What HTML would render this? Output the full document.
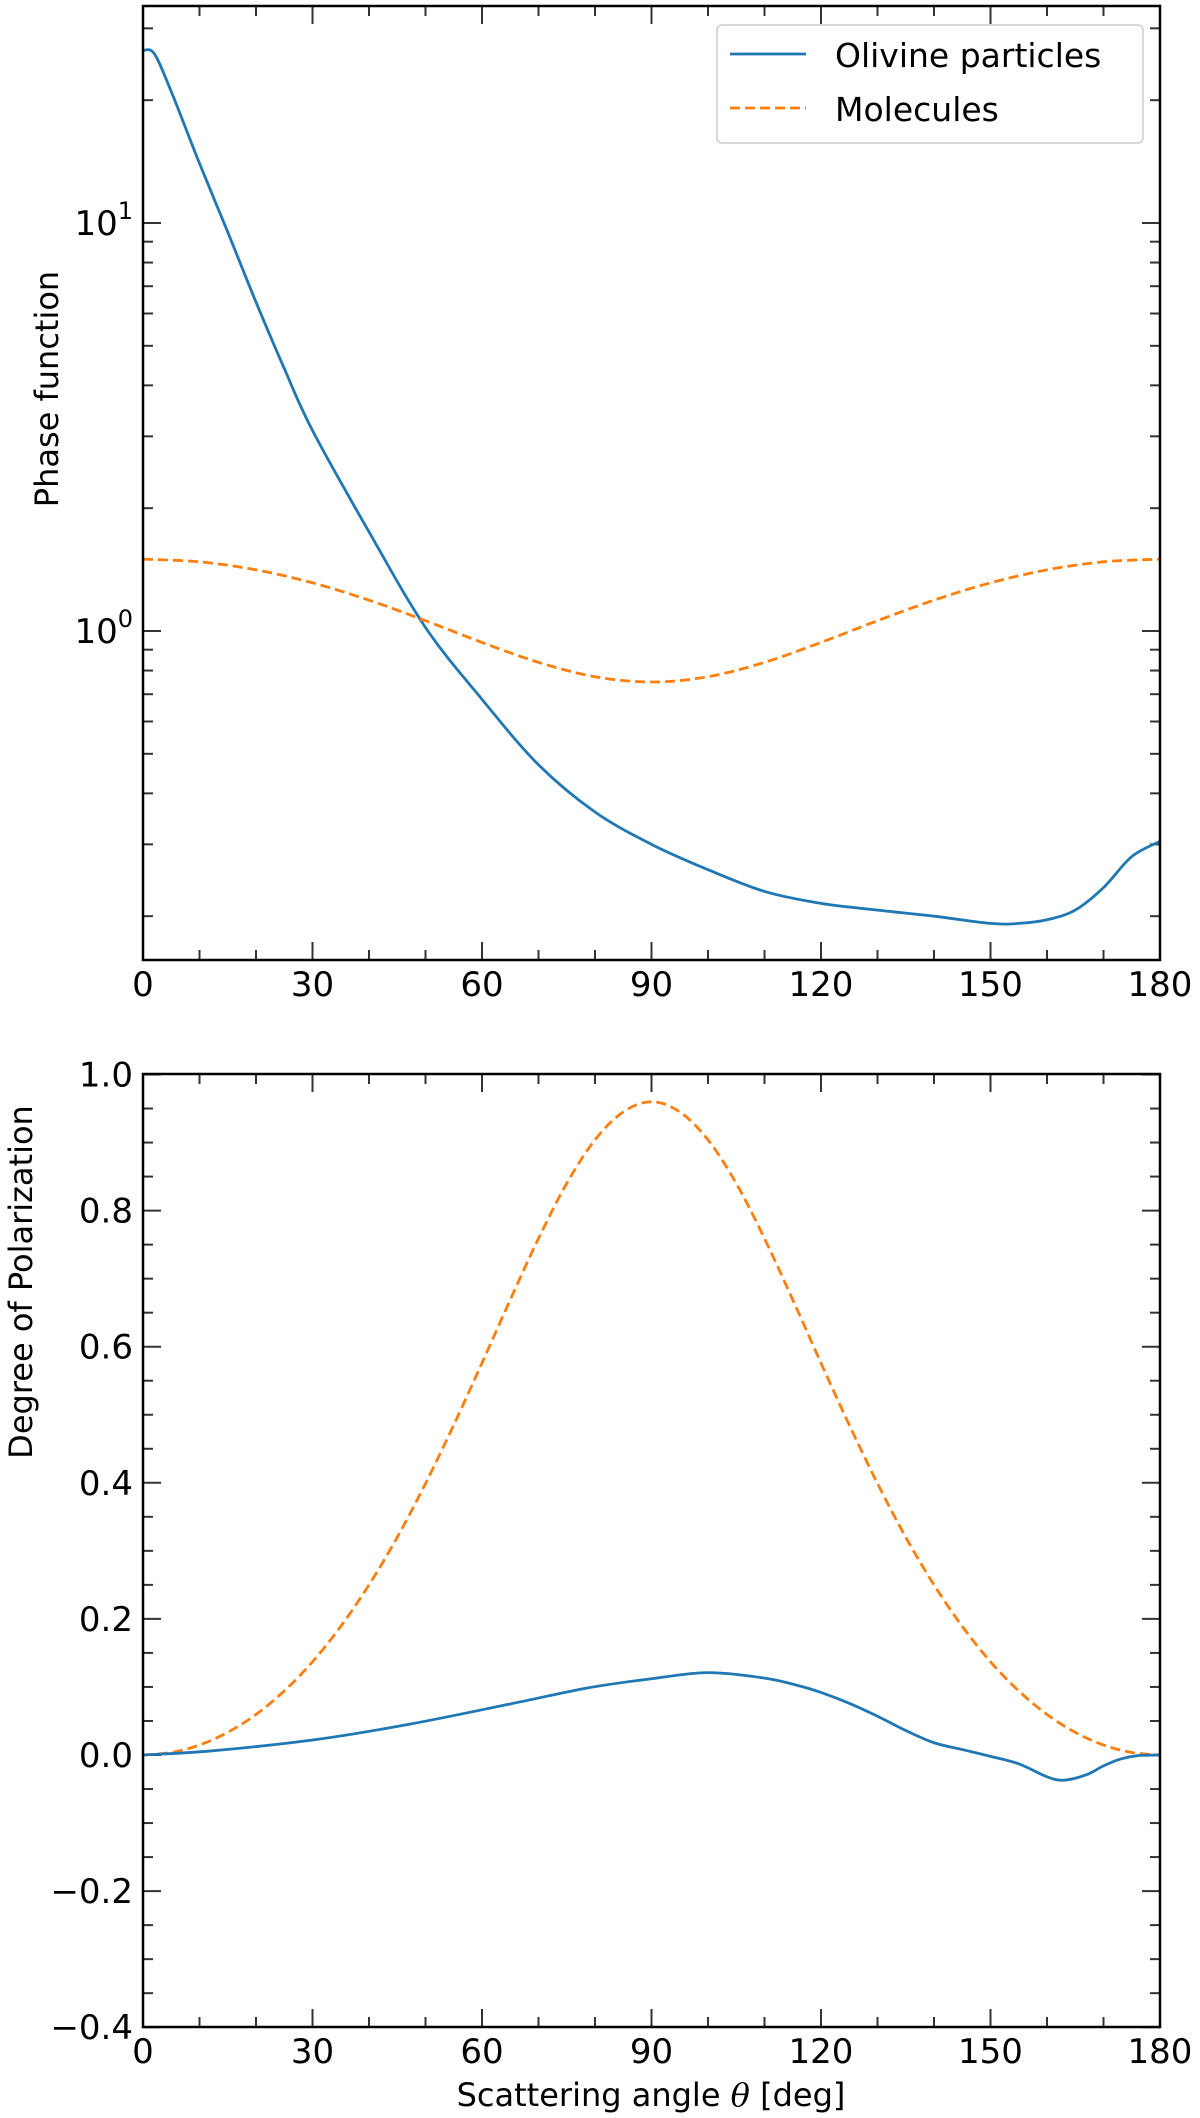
<!DOCTYPE html>
<html><head><meta charset="utf-8">
<style>
html,body{margin:0;padding:0;background:#fff;overflow:hidden;width:1200px;height:2118px;}
svg{display:block;}
text{font-family:"DejaVu Sans","Liberation Sans",sans-serif;fill:#000;}
</style></head>
<body>
<svg id="fig" width="1200" height="2118" viewBox="0 0 1200 2118" xmlns="http://www.w3.org/2000/svg">
<g id="top"></g>
<g id="bot"></g>
</svg>
<script>
const olivineAngles = [0,2,5,10,15,20,25,30,40,50,60,70,80,90,100,110,120,130,140,150,155,160,165,170,175,180];
const olivinePhase = [26.5,26,21,14,9.5,6.4,4.4,3.1,1.75,1.02,0.68,0.47,0.36,0.3,0.26,0.23,0.215,0.207,0.2,0.192,0.192,0.196,0.207,0.235,0.28,0.305];
const molAngles = [0,10,20,30,40,50,60,70,80,90,100,110,120,130,140,150,160,170,180];
const molPhase = [1.5,1.4777,1.4123,1.3125,1.1901,1.0599,0.9375,0.8377,0.7726,0.75,0.7726,0.8377,0.9375,1.0599,1.1901,1.3125,1.4123,1.4777,1.5];
const polAngles = [0,12,30,47,65,79,90,100,110,116,120,125,130,135,140,145,150,155,160,163,167,170,173,176,180];
const olivinePol = [0,0.006,0.022,0.045,0.075,0.099,0.112,0.121,0.113,0.102,0.092,0.076,0.057,0.036,0.018,0.008,-0.002,-0.013,-0.032,-0.037,-0.029,-0.016,-0.006,-0.001,0];
const molPolAngles = [0,5,10,15,20,25,30,35,40,45,50,55,60,65,70,75,80,85,90,95,100,105,110,115,120,125,130,135,140,145,150,155,160,165,170,175,180];
const molPol = [0,0.0037,0.0147,0.0333,0.0596,0.0941,0.137,0.189,0.25,0.32,0.399,0.485,0.576,0.669,0.759,0.84,0.904,0.945,0.96,0.945,0.904,0.84,0.759,0.669,0.576,0.485,0.399,0.32,0.25,0.189,0.137,0.0941,0.0596,0.0333,0.0147,0.0037,0];
const xTicks = [0,30,60,90,120,150,180];
const polTicks = [-0.4,-0.2,0.0,0.2,0.4,0.6,0.8,1.0];

const NS="http://www.w3.org/2000/svg";
const L=143,R=1160;
const T1=6,B1=960,T2=1074,B2=2027;
const xS=a=>L+(a/180)*(R-L);
const y1=v=>631-408*Math.log10(v);
const y2=v=>1755-(v/0.2)*136.1;
function el(tag,attrs,parent){const e=document.createElementNS(NS,tag);for(const k in attrs)e.setAttribute(k,attrs[k]);parent.appendChild(e);return e;}
function smooth(pts){let d=`M${pts[0][0]},${pts[0][1]}`;for(let i=0;i<pts.length-1;i++){const p0=pts[Math.max(0,i-1)],p1=pts[i],p2=pts[i+1],p3=pts[Math.min(pts.length-1,i+2)];const c1=[p1[0]+(p2[0]-p0[0])/6,p1[1]+(p2[1]-p0[1])/6],c2=[p2[0]-(p3[0]-p1[0])/6,p2[1]-(p3[1]-p1[1])/6];d+=`C${c1[0].toFixed(2)},${c1[1].toFixed(2)} ${c2[0].toFixed(2)},${c2[1].toFixed(2)} ${p2[0].toFixed(2)},${p2[1].toFixed(2)}`;}return d;}

function frame(g,T,B,xlabels,xlbY){
  for(let a=0;a<=180;a+=10){const major=a%30===0;const len=major?18:10;const x=xS(a);
    const t1=el('line',{x1:x,x2:x,y1:B,y2:B-len,stroke:'#333','stroke-width':2},g);
    
    
    const t2=el('line',{x1:x,x2:x,y1:T,y2:T+len,stroke:'#333','stroke-width':2},g);
    
    
  }
  if(xlabels){xTicks.forEach(a=>{const t=el('text',{x:xS(a),y:xlbY,'font-size':34,'text-anchor':'middle'},g);t.textContent=a;
    
    });}
}
function box(g,T,B){const r=el('rect',{x:L,y:T,width:R-L,height:B-T,fill:'none',stroke:'#000','stroke-width':2.5},g);
  
  }

// TOP PANEL
const gt=document.getElementById('top');
frame(gt,T1,B1,true,996);
for(let d=-1;d<=1;d++){for(let m=1;m<=9;m++){const v=m*Math.pow(10,d);const y=y1(v);if(y<T1||y>B1)continue;const len=m===1?18:10;
  const a=el('line',{x1:L,x2:L+len,y1:y,y2:y,stroke:'#333','stroke-width':2},gt);
  
  
  const b=el('line',{x1:R,x2:R-len,y1:y,y2:y,stroke:'#333','stroke-width':2},gt);
  
  
  if(m===1){const t=el('text',{x:L-10,y:y+12,'font-size':34,'text-anchor':'end'},gt);
    
    
    t.innerHTML='10<tspan dy="-16" font-size="24">'+d+'</tspan>';}
}}
const cpT=el('clipPath',{id:'cpT'},gt);el('rect',{x:L,y:T1,width:R-L,height:B1-T1},cpT);
const olP=el('path',{d:smooth(olivineAngles.map((a,i)=>[xS(a),y1(olivinePhase[i])])),fill:'none',stroke:'#1f77b4','stroke-width':2.8,'clip-path':'url(#cpT)'},gt);


const mP=el('path',{d:smooth(molAngles.map((a,i)=>[xS(a),y1(molPhase[i])])),fill:'none',stroke:'#ff7f0e','stroke-width':2.8,'stroke-dasharray':'10,5','clip-path':'url(#cpT)'},gt);


box(gt,T1,B1);
const yl1=el('text',{x:0,y:0,'font-size':32,'text-anchor':'middle',transform:'translate(58,389) rotate(-90)'},gt);yl1.textContent='Phase function';


const lg=el('g',{},gt);


el('rect',{x:717,y:25,width:426,height:118,rx:5,fill:'#fff',stroke:'#ccc','stroke-width':1.5},lg);
const le1=el('line',{x1:730,x2:806,y1:54,y2:54,stroke:'#1f77b4','stroke-width':2.8},lg);


const le2=el('line',{x1:730,x2:806,y1:108,y2:108,stroke:'#ff7f0e','stroke-width':2.8,'stroke-dasharray':'10,5'},lg);


const lt1=el('text',{x:835,y:67,'font-size':33},lg);lt1.textContent='Olivine particles';


const lt2=el('text',{x:835,y:121,'font-size':33},lg);lt2.textContent='Molecules';



// BOTTOM PANEL
const gb=document.getElementById('bot');
frame(gb,T2,B2,true,2063);
for(let k=-8;k<=20;k++){const v=k*0.05;const y=y2(v);if(y<T2-1||y>B2+1)continue;const major=k%4===0;const len=major?18:10;
  const a=el('line',{x1:L,x2:L+len,y1:y,y2:y,stroke:'#333','stroke-width':2},gb);
  
  
  const b=el('line',{x1:R,x2:R-len,y1:y,y2:y,stroke:'#333','stroke-width':2},gb);
  
  }
polTicks.forEach(v=>{const t=el('text',{x:L-10,y:y2(v)+12,'font-size':34,'text-anchor':'end'},gb);
  t.textContent=(v<0?'\u2212':'')+Math.abs(v).toFixed(1);
  
  });
const mPol=el('path',{d:smooth(molPolAngles.map((a,i)=>[xS(a),y2(molPol[i])])),fill:'none',stroke:'#ff7f0e','stroke-width':2.8,'stroke-dasharray':'10,5'},gb);


const oPol=el('path',{d:smooth(polAngles.map((a,i)=>[xS(a),y2(olivinePol[i])])),fill:'none',stroke:'#1f77b4','stroke-width':2.8},gb);


box(gb,T2,B2);
const yl2=el('text',{x:0,y:0,'font-size':32,'text-anchor':'middle',transform:'translate(32,1282) rotate(-90)'},gb);yl2.textContent='Degree of Polarization';


const xl=el('text',{x:651,y:2106,'font-size':32,'text-anchor':'middle'},gb);
xl.innerHTML='Scattering angle <tspan font-style="italic" font-family="DejaVu Serif, serif">θ</tspan> [deg]';


</script>
</body></html>
